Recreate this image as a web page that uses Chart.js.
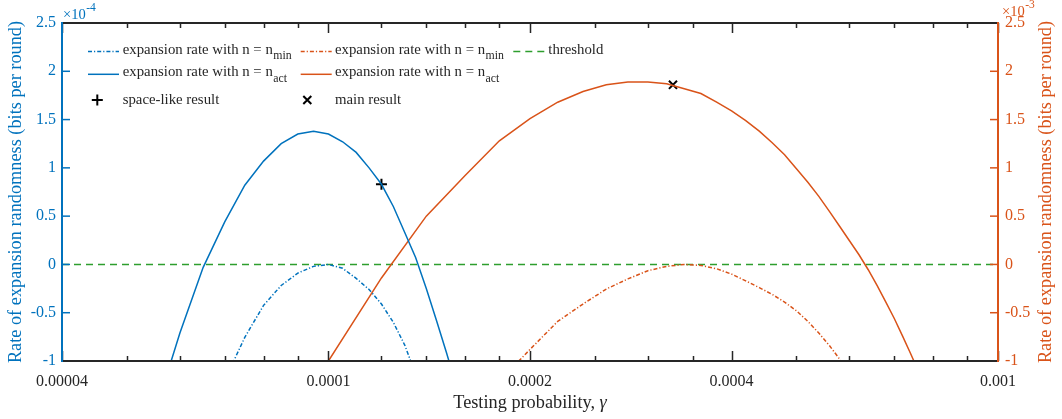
<!DOCTYPE html>
<html><head><meta charset="utf-8">
<script src="https://cdn.jsdelivr.net/npm/chart.js@4/dist/chart.umd.min.js"></script>
<style>html,body{margin:0;padding:0;background:#fff;}#wrap{width:1062px;height:419px;position:relative;}</style>
</head><body><div id="wrap"><canvas id="c" width="1062" height="419"></canvas></div>
<script>
// ---- data ----
const blueActGamma = [5.5e-5,6.0e-5,6.5e-5,7.0e-5,7.5e-5,8.0e-5,8.5e-5,9.0e-5,9.5e-5,1.0e-4,1.05e-4,1.1e-4,1.15e-4,1.2e-4,1.25e-4,1.3e-4,1.35e-4,1.4e-4,1.45e-4,1.5e-4,1.55e-4];
const blueActRate  = [-1.55,-0.71,-0.03,0.44,0.82,1.07,1.25,1.35,1.38,1.35,1.27,1.16,1.00,0.83,0.60,0.33,0.07,-0.25,-0.58,-0.91,-1.24];
const blueMinGamma = [7.0e-5,7.5e-5,8.0e-5,8.5e-5,9.0e-5,9.5e-5,1.0e-4,1.05e-4,1.1e-4,1.15e-4,1.2e-4,1.25e-4,1.3e-4,1.35e-4];
const blueMinRate  = [-1.2,-0.755,-0.424,-0.218,-0.09,-0.02,0.0,-0.04,-0.144,-0.26,-0.41,-0.60,-0.835,-1.14];
const orangeActGamma = [1.0e-4,1.2e-4,1.4e-4,1.6e-4,1.8e-4,2.0e-4,2.2e-4,2.4e-4,2.6e-4,2.8e-4,3.0e-4,3.2e-4,3.4e-4,3.6e-4,3.8e-4,4.0e-4,4.2e-4,4.4e-4,4.6e-4,4.8e-4,5.0e-4,5.2e-4,5.4e-4,5.6e-4,5.8e-4,6.0e-4,6.2e-4,6.4e-4,6.6e-4,6.8e-4,7.0e-4,7.2e-4,7.4e-4,7.6e-4];
const orangeActRate  = [-1.0,-0.14,0.50,0.92,1.28,1.51,1.68,1.79,1.86,1.89,1.89,1.87,1.82,1.77,1.68,1.59,1.49,1.38,1.26,1.135,0.99,0.85,0.705,0.55,0.395,0.245,0.10,-0.055,-0.22,-0.39,-0.56,-0.74,-0.92,-1.10];
const orangeMinGamma = [1.8e-4,2.0e-4,2.2e-4,2.4e-4,2.6e-4,2.8e-4,3.0e-4,3.2e-4,3.4e-4,3.6e-4,3.8e-4,4.0e-4,4.2e-4,4.4e-4,4.6e-4,4.8e-4,5.0e-4,5.2e-4,5.4e-4,5.6e-4,5.8e-4,6.0e-4];
const orangeMinRate  = [-1.21,-0.88,-0.59,-0.41,-0.255,-0.15,-0.065,-0.02,0.0,-0.01,-0.045,-0.10,-0.17,-0.24,-0.31,-0.39,-0.48,-0.59,-0.71,-0.84,-0.98,-1.12];
const thresholdGamma = [4e-5, 1e-3];
const thresholdRate  = [0, 0];
const spaceLikeGamma = [1.2e-4];
const spaceLikeRate  = [0.83];
const mainResultGamma = [3.27e-4];
const mainResultRate  = [1.86];

const xMajorTicks  = [0.00004, 0.0001, 0.0002, 0.0004, 0.001];
const xMajorLabels = ['0.00004', '0.0001', '0.0002', '0.0004', '0.001'];
const xMinorTicks  = [5e-5,6e-5,7e-5,8e-5,9e-5,1.2e-4,1.4e-4,1.6e-4,1.8e-4,2.5e-4,3e-4,3.5e-4,5e-4,6e-4,7e-4,8e-4,9e-4];
const yTicks       = [-1, -0.5, 0, 0.5, 1, 1.5, 2, 2.5];
const yTickLabels  = ['-1', '-0.5', '0', '0.5', '1', '1.5', '2', '2.5'];

const BLUE = '#0072BD', ORANGE = '#D95319', GREEN = '#2e9e2e', GRAY = '#262626';
const SERIF = '"Liberation Serif", "Times New Roman", serif';
const DASHDOT = [4, 2, 1.2, 2];
const DASHED = [7, 5];
const TITLE_FONT = '18.3px ';
const LEG_FONT = '14.8px ';

const pts = (xs, ys) => xs.map((x, i) => ({x: x, y: ys[i]}));

const overlay = {
  id: 'overlay',
  afterDatasetsDraw(chart) {
    const ctx = chart.ctx, a = chart.chartArea;
    const sx = chart.scales.x, sy = chart.scales.y, sy2 = chart.scales.y2;
    ctx.save();
    ctx.strokeStyle = GRAY; ctx.lineWidth = 1.5;
    const drawX = (v, len) => {
      const px = Math.round(sx.getPixelForValue(v)) + 0.5;
      ctx.beginPath();
      ctx.moveTo(px, a.bottom); ctx.lineTo(px, a.bottom - len);
      ctx.moveTo(px, a.top); ctx.lineTo(px, a.top + len);
      ctx.stroke();
    };
    xMajorTicks.forEach(v => drawX(v, 10));
    xMinorTicks.forEach(v => drawX(v, 5));
    ctx.strokeStyle = BLUE;
    yTicks.forEach(v => { const py = sy.getPixelForValue(v); ctx.beginPath(); ctx.moveTo(a.left, py); ctx.lineTo(a.left + 8, py); ctx.stroke(); });
    ctx.strokeStyle = ORANGE;
    yTicks.forEach(v => { const py = sy2.getPixelForValue(v); ctx.beginPath(); ctx.moveTo(a.right, py); ctx.lineTo(a.right - 8, py); ctx.stroke(); });
    ctx.lineWidth = 2;
    ctx.strokeStyle = GRAY;
    ctx.beginPath(); ctx.moveTo(a.left, a.top); ctx.lineTo(a.right, a.top); ctx.stroke();
    ctx.beginPath(); ctx.moveTo(a.left, a.bottom); ctx.lineTo(a.right, a.bottom); ctx.stroke();
    ctx.strokeStyle = BLUE;
    ctx.beginPath(); ctx.moveTo(a.left, a.top - 1); ctx.lineTo(a.left, a.bottom + 1); ctx.stroke();
    ctx.strokeStyle = ORANGE;
    ctx.beginPath(); ctx.moveTo(a.right, a.top - 1); ctx.lineTo(a.right, a.bottom + 1); ctx.stroke();
    ctx.restore();
  },
  afterDraw(chart) {
    const ctx = chart.ctx, a = chart.chartArea;
    ctx.save();
    ctx.textAlign = 'center'; ctx.textBaseline = 'middle';
    ctx.font = TITLE_FONT + SERIF;
    const cy = (a.top + a.bottom) / 2;
    ctx.fillStyle = BLUE;
    ctx.save(); ctx.translate(16, cy); ctx.rotate(-Math.PI / 2);
    ctx.fillText('Rate of expansion randomness (bits per round)', 0, 0); ctx.restore();
    ctx.fillStyle = ORANGE;
    ctx.save(); ctx.translate(1046, cy); ctx.rotate(-Math.PI / 2);
    ctx.fillText('Rate of expansion randomness (bits per round)', 0, 0); ctx.restore();
    ctx.fillStyle = GRAY; ctx.textBaseline = 'alphabetic'; ctx.textAlign = 'left';
    const t1 = 'Testing probability, ';
    ctx.font = TITLE_FONT + SERIF; const w1 = ctx.measureText(t1).width;
    ctx.font = 'italic ' + TITLE_FONT + SERIF; const w2 = ctx.measureText('γ').width;
    const cx = (a.left + a.right) / 2;
    const x0 = cx - (w1 + w2) / 2;
    ctx.font = TITLE_FONT + SERIF; ctx.fillText(t1, x0, 408);
    ctx.font = 'italic ' + TITLE_FONT + SERIF; ctx.fillText('γ', x0 + w1, 408);
    // exponent labels
    ctx.font = '14.5px ' + SERIF; ctx.fillStyle = BLUE;
    ctx.fillText('×10', 63, 19);
    let w = ctx.measureText('×10').width;
    ctx.font = '11.5px ' + SERIF; ctx.fillText('-4', 63 + w + 0.5, 11);
    ctx.font = '14.5px ' + SERIF; ctx.fillStyle = ORANGE;
    ctx.fillText('×10', 1002, 16);
    w = ctx.measureText('×10').width;
    ctx.font = '11.5px ' + SERIF; ctx.fillText('-3', 1002 + w + 0.5, 8);
    // legend
    const lineEntry = (xs, xe, y, color, dash) => {
      ctx.save(); ctx.strokeStyle = color; ctx.lineWidth = 1.5; ctx.setLineDash(dash);
      ctx.beginPath(); ctx.moveTo(xs, y); ctx.lineTo(xe, y); ctx.stroke(); ctx.restore();
    };
    const textEntry = (x, base, txt, sub) => {
      ctx.fillStyle = GRAY; ctx.font = LEG_FONT + SERIF;
      ctx.fillText(txt, x, base);
      if (sub) { const ww = ctx.measureText(txt).width; ctx.font = '11.8px ' + SERIF; ctx.fillText(sub, x + ww + 0.5, base + 5.5); }
    };
    const mark = (x, y, rot) => {
      ctx.save(); ctx.strokeStyle = '#000'; ctx.lineWidth = 2; ctx.beginPath();
      if (!rot) { ctx.moveTo(x - 5.5, y); ctx.lineTo(x + 5.5, y); ctx.moveTo(x, y - 5.5); ctx.lineTo(x, y + 5.5); }
      else { const d = 4; ctx.moveTo(x - d, y - d); ctx.lineTo(x + d, y + d); ctx.moveTo(x - d, y + d); ctx.lineTo(x + d, y - d); }
      ctx.stroke(); ctx.restore();
    };
    const r1 = 51.5, r2 = 74.3, r3 = 100;
    lineEntry(88, 119, r1, BLUE, DASHDOT);   textEntry(122.7, r1 + 2, 'expansion rate with n = n', 'min');
    lineEntry(88, 119, r2, BLUE, []);        textEntry(122.7, r2 + 2, 'expansion rate with n = n', 'act');
    mark(97.3, r3, false);                   textEntry(122.7, r3 + 4, 'space-like result');
    lineEntry(300.7, 331.7, r1, ORANGE, DASHDOT); textEntry(335, r1 + 2, 'expansion rate with n = n', 'min');
    lineEntry(300.7, 331.7, r2, ORANGE, []);      textEntry(335, r2 + 2, 'expansion rate with n = n', 'act');
    mark(307.3, r3, true);                        textEntry(335, r3 + 4, 'main result');
    lineEntry(513.3, 545, r1, GREEN, DASHED);     textEntry(548.3, r1 + 2, 'threshold');
    ctx.restore();
  }
};

const lineDs = (xs, ys, color, dash, axis) => ({
  data: pts(xs, ys), yAxisID: axis, showLine: true, borderColor: color, backgroundColor: color,
  borderWidth: 1.5, borderDash: dash, pointRadius: 0, pointHoverRadius: 0, tension: 0, clip: 0
});

new Chart(document.getElementById('c'), {
  type: 'scatter',
  data: {
    datasets: [
      lineDs(blueMinGamma, blueMinRate, BLUE, DASHDOT, 'y'),
      lineDs(blueActGamma, blueActRate, BLUE, [], 'y'),
      lineDs(orangeMinGamma, orangeMinRate, ORANGE, DASHDOT, 'y2'),
      lineDs(orangeActGamma, orangeActRate, ORANGE, [], 'y2'),
      lineDs(thresholdGamma, thresholdRate, GREEN, DASHED, 'y'),
      { data: pts(spaceLikeGamma, spaceLikeRate), yAxisID: 'y', pointStyle: 'cross', pointRadius: 5.5, borderColor: '#000', borderWidth: 2, showLine: false },
      { data: pts(mainResultGamma, mainResultRate), yAxisID: 'y2', pointStyle: 'crossRot', pointRadius: 5.7, borderColor: '#000', borderWidth: 2, showLine: false }
    ]
  },
  options: {
    responsive: false, animation: false, devicePixelRatio: 1,
    layout: { padding: { top: 23, left: 0, right: 0, bottom: 0 } },
    plugins: { legend: { display: false }, tooltip: { enabled: false } },
    scales: {
      x: {
        type: 'logarithmic', min: 0.00004, max: 0.001,
        grid: { display: false, drawTicks: false }, border: { display: false },
        afterBuildTicks: s => { s.ticks = xMajorTicks.map(v => ({ value: v })); },
        afterFit: s => { s.height = 58; },
        ticks: { autoSkip: false, maxRotation: 0, minRotation: 0, padding: 11, color: GRAY,
          font: { family: SERIF, size: 16 },
          callback: v => { const i = xMajorTicks.findIndex(t => Math.abs(t - v) / t < 1e-6); return i >= 0 ? xMajorLabels[i] : ''; } }
      },
      y: {
        type: 'linear', position: 'left', min: -1, max: 2.5,
        grid: { display: false, drawTicks: false }, border: { display: false },
        afterBuildTicks: s => { s.ticks = yTicks.map(v => ({ value: v })); },
        afterFit: s => { s.width = 62; },
        ticks: { padding: 6, color: BLUE, font: { family: SERIF, size: 16 },
          callback: v => yTickLabels[yTicks.indexOf(v)] }
      },
      y2: {
        type: 'linear', position: 'right', min: -1, max: 2.5,
        grid: { display: false, drawTicks: false }, border: { display: false },
        afterBuildTicks: s => { s.ticks = yTicks.map(v => ({ value: v })); },
        afterFit: s => { s.width = 64; },
        ticks: { padding: 7, color: ORANGE, font: { family: SERIF, size: 16 },
          callback: v => yTickLabels[yTicks.indexOf(v)] }
      }
    }
  },
  plugins: [overlay]
});
</script></body></html>
